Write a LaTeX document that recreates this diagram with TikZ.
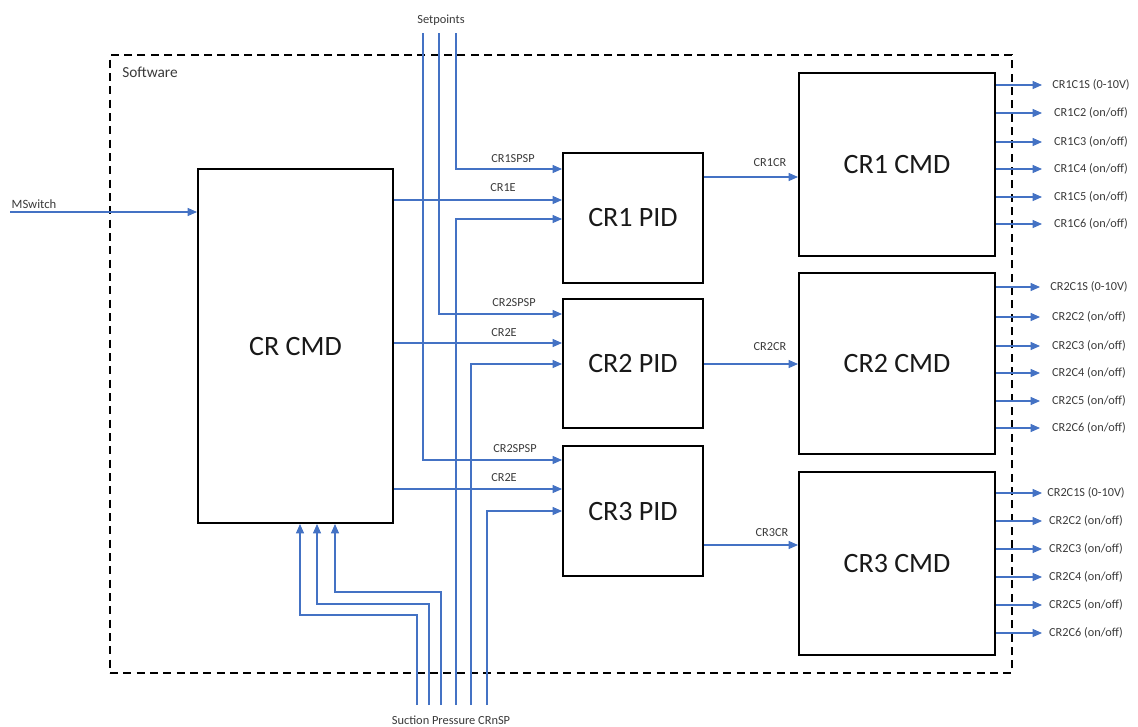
\documentclass[tikz,border=0pt]{standalone}
\usepackage{fontspec}
\setmainfont{Carlito}
\usetikzlibrary{arrows.meta,calc}
\definecolor{lineblue}{HTML}{4472C4}
\definecolor{txt}{HTML}{3A3A3A}
\begin{document}
\begin{tikzpicture}[x=0.75pt,y=-0.75pt,
 box/.style={draw=black,line width=1.5pt,fill=white,font=\fontsize{21}{24}\selectfont,text=black!90,inner sep=0pt},
 arr/.style={draw=lineblue,line width=0.8pt,-{Triangle[length=7pt,width=6pt]}},
 lab/.style={font=\fontsize{9.2}{10}\selectfont,text=txt,inner sep=0pt},
 frame/.style={draw=black,line width=1.5pt,dash pattern=on 6pt off 4pt,inner sep=0pt}]
\useasboundingbox (0,0) rectangle (1138,726);

% frame
\node[frame,minimum width=676.5pt,minimum height=463.5pt] (sw) at (561,364) {};
\node[lab,font=\fontsize{11.5}{13}\selectfont,anchor=west] (swl) at (122,72) {Software};

% boxes
\node[box,minimum width=146.25pt,minimum height=265.5pt] (crcmd) at (295.5,346) {CR CMD};
\node[box,minimum width=105pt,minimum height=97.5pt] (pid1) at (633,218) {CR1 PID};
\node[box,minimum width=105pt,minimum height=96.75pt] (pid2) at (633,363.5) {CR2 PID};
\node[box,minimum width=105pt,minimum height=97.5pt] (pid3) at (633,511) {CR3 PID};
\node[box,minimum width=147pt,minimum height=137.25pt] (cmd1) at (897,164.5) {CR1 CMD};
\node[box,minimum width=147pt,minimum height=135.75pt] (cmd2) at (897,363.5) {CR2 CMD};
\node[box,minimum width=147pt,minimum height=137.25pt] (cmd3) at (897,563.5) {CR3 CMD};

% MSwitch
\coordinate (msw) at (10,212);
\draw[arr] (msw) -- (msw -| crcmd.west);
\node[lab,font=\fontsize{9.5}{11}\selectfont] (mswl) at (34,204) {MSwitch};

% PID input points
\path ([yshift=36.75pt]pid1.west) coordinate (p1a)
      ([yshift=13.5pt]pid1.west) coordinate (p1b)
      ([yshift=-0.75pt]pid1.west) coordinate (p1c)
      ([yshift=37.125pt]pid2.west) coordinate (p2a)
      ([yshift=15.375pt]pid2.west) coordinate (p2b)
      ([yshift=-0.375pt]pid2.west) coordinate (p2c)
      ([yshift=38.25pt]pid3.west) coordinate (p3a)
      ([yshift=16.5pt]pid3.west) coordinate (p3b)
      (pid3.west) coordinate (p3c);

% setpoints
\node[lab,font=\fontsize{9.3}{11}\selectfont] (spl) at (441,20) {Setpoints};
\coordinate (s1) at (456,33);
\coordinate (s2) at (439,33);
\coordinate (s3) at (423,33);
\draw[arr] (s1) |- (p1a);
\draw[arr] (s2) |- (p2a);
\draw[arr] (s3) |- (p3a);

% errors from CR CMD
\draw[arr] (crcmd.east |- p1b) -- (p1b);
\draw[arr] (crcmd.east |- p2b) -- (p2b);
\draw[arr] (crcmd.east |- p3b) -- (p3b);

% suction pressure
\coordinate (b1) at (417,705);
\coordinate (b2) at (429,705);
\coordinate (b3) at (441,705);
\coordinate (b4) at (456,705);
\coordinate (b5) at (471,705);
\coordinate (b6) at (487,705);
\draw[arr] (b1) -- ++(0,-90) -| ([xshift=3.375pt]crcmd.south);
\draw[arr] (b2) -- ++(0,-101) -| ([xshift=16.125pt]crcmd.south);
\draw[arr] (b3) -- ++(0,-113) -| ([xshift=29.625pt]crcmd.south);
\draw[arr] (b4) |- (p1c);
\draw[arr] (b5) |- (p2c);
\draw[arr] (b6) |- (p3c);
\node[lab,font=\fontsize{9.3}{11}\selectfont] (spc) at (451,720) {Suction Pressure CRnSP};

% labels on PID inputs
\node[lab] (l1a) at (513,159) {CR1SPSP};
\node[lab] (l1b) at (503,188) {CR1E};
\node[lab] (l2a) at (514,303) {CR2SPSP};
\node[lab] (l2b) at (504,333) {CR2E};
\node[lab] (l3a) at (515,449) {CR2SPSP};
\node[lab] (l3b) at (504,478) {CR2E};

% PID -> CMD
\path ([yshift=30.75pt]pid1.east) coordinate (o1)
      ([yshift=-0.375pt]pid2.east) coordinate (o2)
      ([yshift=-25.5pt]pid3.east) coordinate (o3);
\draw[arr] (o1) -- (o1 -| cmd1.west);
\draw[arr] (o2) -- (o2 -| cmd2.west);
\draw[arr] (o3) -- (o3 -| cmd3.west);
\node[lab] (lo1) at (770,163) {CR1CR};
\node[lab] (lo2) at (770,347) {CR2CR};
\node[lab] (lo3) at (772,533) {CR3CR};

% outputs
\foreach \y/\t [count=\i] in {85/{CR1C1S (0-10V)},113/{CR1C2 (on/off)},142/{CR1C3 (on/off)},169/{CR1C4 (on/off)},197/{CR1C5 (on/off)},224/{CR1C6 (on/off)}}{
  \coordinate (qa\i) at (1042,\y);
  \draw[arr] (cmd1.east |- qa\i) -- (qa\i);
  \node[lab] (ta\i) at (1091,\y) {\t};
}
\foreach \y/\t [count=\i] in {287/{CR2C1S (0-10V)},317/{CR2C2 (on/off)},346/{CR2C3 (on/off)},373/{CR2C4 (on/off)},401/{CR2C5 (on/off)},428/{CR2C6 (on/off)}}{
  \coordinate (qb\i) at (1040,\y);
  \draw[arr] (cmd2.east |- qb\i) -- (qb\i);
  \node[lab] (tb\i) at (1089,\y) {\t};
}
\foreach \y/\t [count=\i] in {493/{CR2C1S (0-10V)},521/{CR2C2 (on/off)},549/{CR2C3 (on/off)},577/{CR2C4 (on/off)},605/{CR2C5 (on/off)},633/{CR2C6 (on/off)}}{
  \coordinate (qc\i) at (1042,\y);
  \draw[arr] (cmd3.east |- qc\i) -- (qc\i);
  \node[lab] (tc\i) at (1086,\y) {\t};
}
\end{tikzpicture}
\end{document}
